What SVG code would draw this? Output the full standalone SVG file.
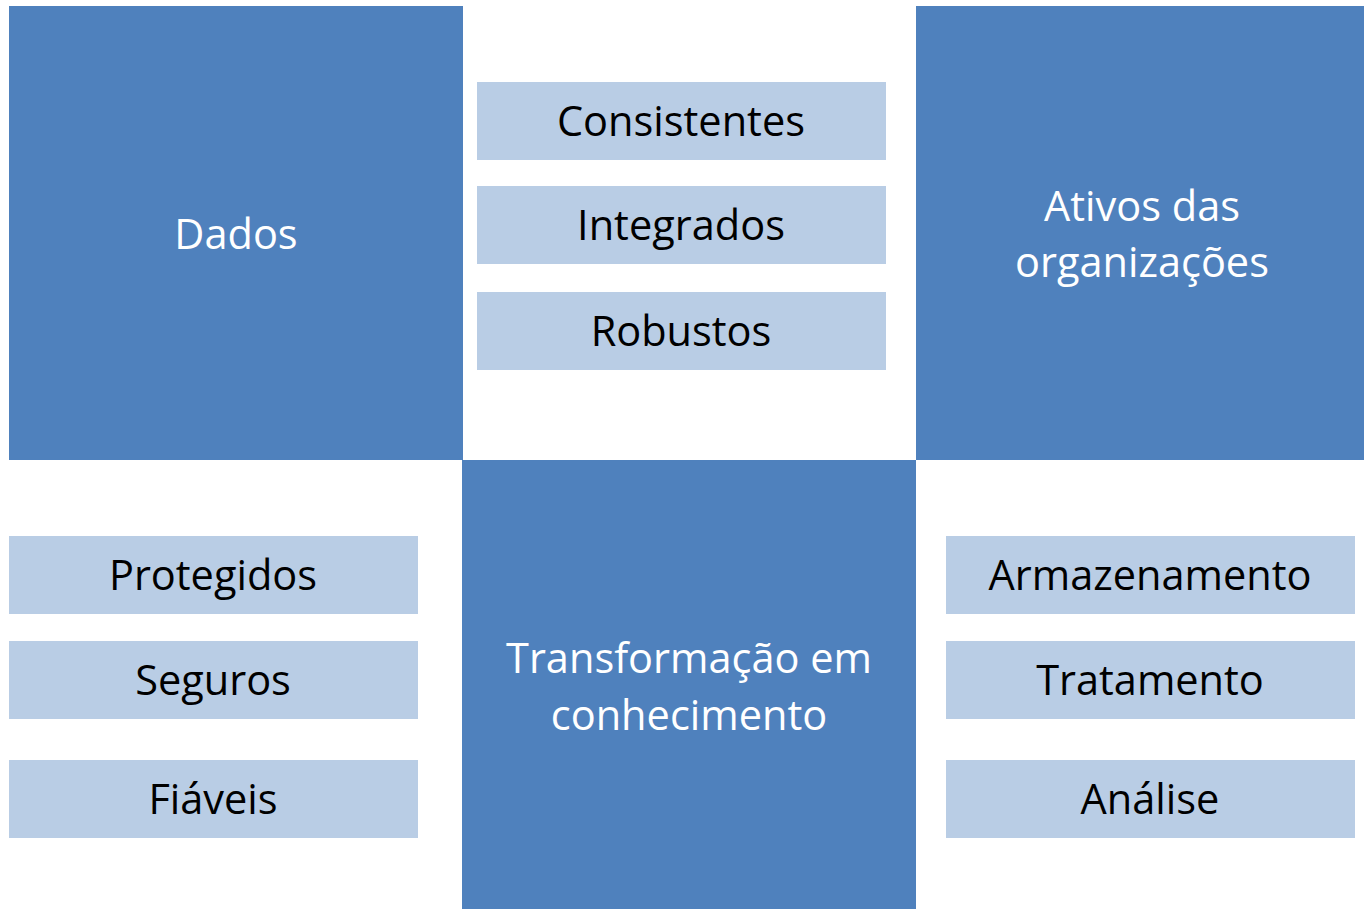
<svg xmlns="http://www.w3.org/2000/svg" width="1364" height="909" viewBox="0 0 1364 909">
<style>
.big{fill:#4F81BD}
.small{fill:#B9CDE5}
.tw{fill:#FFFFFF;font-family:"Open Sans","Liberation Sans",sans-serif;font-size:41.5px;text-anchor:middle}
.tb{fill:#000000;font-family:"Open Sans","Liberation Sans",sans-serif;font-size:41.5px;text-anchor:middle}
</style>
<rect width="1364" height="909" fill="#FFFFFF"/>
<g id="dados"><rect class="big" x="9" y="6" width="454" height="454"/><text class="tw" x="236" y="249">Dados</text></g>
<g id="ativos"><rect class="big" x="916" y="6" width="448" height="454"/><text class="tw" x="1142" y="221">Ativos das</text><text class="tw" x="1142" y="277">organizações</text></g>
<g id="transformacao"><rect class="big" x="462" y="460" width="454" height="449"/><text class="tw" x="689" y="673">Transformação em</text><text class="tw" x="689" y="730">conhecimento</text></g>
<g id="consistentes"><rect class="small" x="477" y="82" width="409" height="78"/><text class="tb" x="681" y="136">Consistentes</text></g>
<g id="integrados"><rect class="small" x="477" y="186" width="409" height="78"/><text class="tb" x="681" y="240">Integrados</text></g>
<g id="robustos"><rect class="small" x="477" y="292" width="409" height="78"/><text class="tb" x="681" y="346">Robustos</text></g>
<g id="protegidos"><rect class="small" x="9" y="536" width="409" height="78"/><text class="tb" x="213" y="590">Protegidos</text></g>
<g id="seguros"><rect class="small" x="9" y="641" width="409" height="78"/><text class="tb" x="213" y="695">Seguros</text></g>
<g id="fiaveis"><rect class="small" x="9" y="760" width="409" height="78"/><text class="tb" x="213" y="814">Fiáveis</text></g>
<g id="armazenamento"><rect class="small" x="946" y="536" width="409" height="78"/><text class="tb" x="1150" y="590">Armazenamento</text></g>
<g id="tratamento"><rect class="small" x="946" y="641" width="409" height="78"/><text class="tb" x="1150" y="695">Tratamento</text></g>
<g id="analise"><rect class="small" x="946" y="760" width="409" height="78"/><text class="tb" x="1150" y="814">Análise</text></g>
<g id="connectors"></g>
</svg>
